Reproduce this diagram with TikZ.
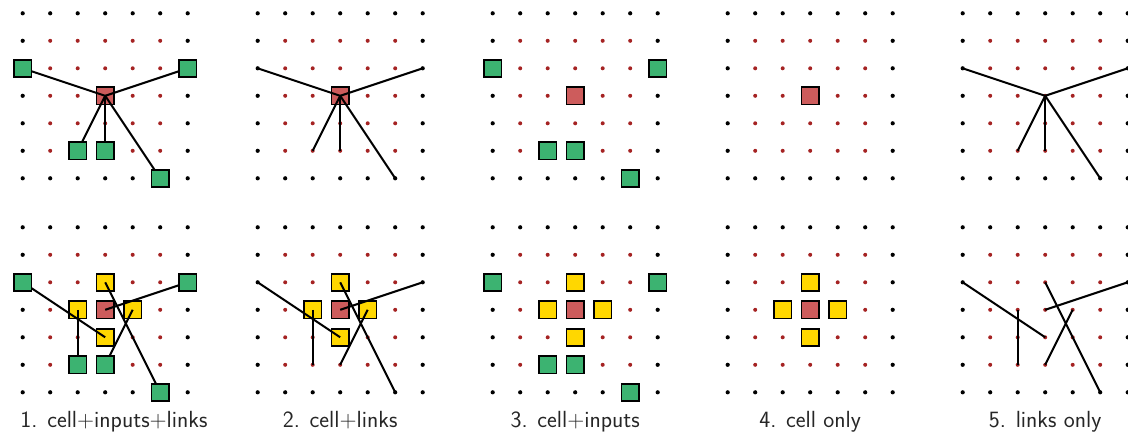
\documentclass[tikz,border=0pt]{standalone}
\definecolor{cellred}{RGB}{205,92,92}
\definecolor{ingreen}{RGB}{60,179,113}
\definecolor{nbyellow}{RGB}{255,215,0}
\definecolor{dotred}{RGB}{165,35,35}
\begin{document}
\begin{tikzpicture}[x=0.75pt,y=-0.75pt,
  sq/.style={rectangle, draw=black, line width=1.3pt, minimum size=13pt, inner sep=0pt, outer sep=0pt},
  cellsq/.style={sq, fill=cellred},
  insq/.style={sq, fill=ingreen},
  nbsq/.style={sq, fill=nbyellow},
  link/.style={line width=1.5pt, draw=black},
  lbl/.style={font=\sffamily\fontsize{17.5}{21}\selectfont, anchor=base, text=black!85}]
\useasboundingbox (0,0) rectangle (1128,433);
% grid coordinates and dots
\foreach \p in {0,...,4} {
  \foreach \h/\yo in {t/13.3,b/227.3} {
    \foreach \c in {0,...,6} {
      \foreach \r in {0,...,6} {
        \coordinate (g\p\h\c\r) at ({22.7+235*\p+27.5*\c},{\yo+27.5*\r});
        \pgfmathtruncatemacro\inn{(\c>0)&&(\c<6)&&(\r>0)&&(\r<6)}
        \ifnum\inn=1
          \fill[dotred] (g\p\h\c\r) circle (2.0);
        \else
          \fill[black] (g\p\h\c\r) circle (2.1);
        \fi
      }
    }
  }
}
% cells
\foreach \p in {0,1,2,3} {
  \foreach \h in {t,b} {
    \node[cellsq] (cell\p\h) at (g\p\h33) {};
  }
}
% neighbours (yellow)
\foreach \p in {0,1,2,3} {
  \foreach \k/\n in {a/32,b/23,c/43,d/34} {
    \node[nbsq] (nb\p\k) at (g\p b\n) {};
  }
}
% links
\foreach \p in {0,1,4} {
  \foreach \n in {02,62,25,35,56} {
    \draw[link] (g\p t33) -- (g\p t\n);
  }
  \foreach \a/\b in {02/34,62/33,23/25,35/43,32/56} {
    \draw[link] (g\p b\a) -- (g\p b\b);
  }
}
% inputs (green)
\foreach \p in {0,2} {
  \foreach \h in {t,b} {
    \foreach \k/\n in {a/02,b/62,c/25,d/35,e/56} {
      \node[insq] (in\p\h\k) at (g\p\h\n) {};
    }
  }
}
% labels
\node[lbl] (l1) at (114,427) {1. cell+inputs+links};
\node[lbl] (l2) at (340.2,427) {2. cell+links};
\node[lbl] (l3) at (575.2,427) {3. cell+inputs};
\node[lbl] (l4) at (810.2,427) {4. cell only};
\node[lbl] (l5) at (1045.2,427) {5. links only};
\end{tikzpicture}
\end{document}
